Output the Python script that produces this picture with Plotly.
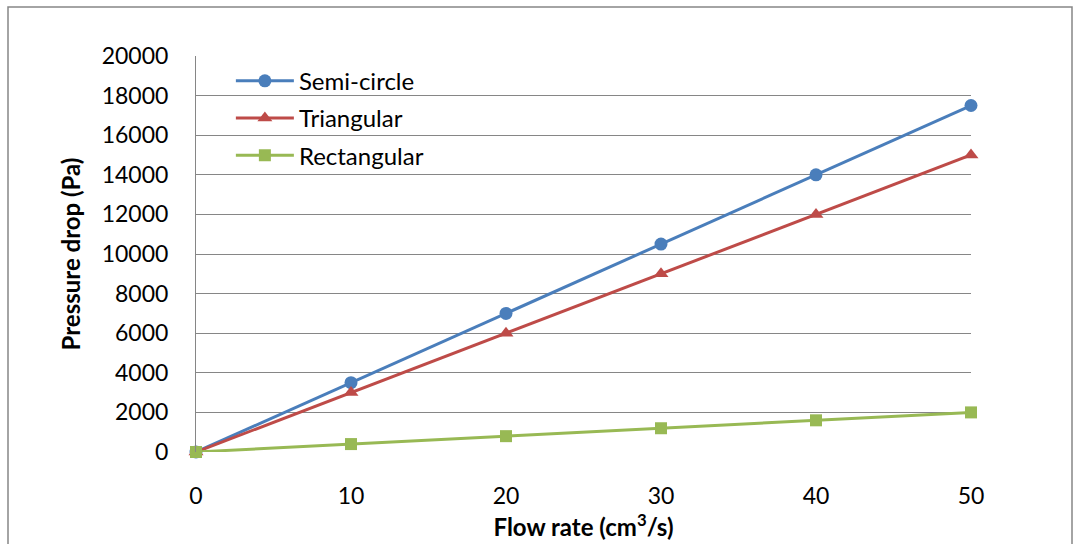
import plotly.graph_objects as go

flow_rate = [0, 10, 20, 30, 40, 50]
semi_circle = [0, 3500, 7000, 10500, 14000, 17500]
triangular = [0, 3000, 6000, 9000, 12000, 15000]
rectangular = [0, 400, 800, 1200, 1600, 2000]

series = [
    ("Semi-circle", semi_circle, "#4A7EBB", "circle", 13),
    ("Triangular", triangular, "#BE4B48", "triangle-up", 13),
    ("Rectangular", rectangular, "#98B954", "square", 12),
]

FONT = "Lato"
fig = go.Figure()
for i, (name, vals, color, sym, size) in enumerate(series):
    fig.add_trace(go.Scatter(
        x=flow_rate, y=vals, name=name, mode="lines+markers",
        line=dict(color=color, width=3),
        marker=dict(symbol=sym, size=size, color=color),
        legendgroup=f"g{i}", cliponaxis=False,
    ))

fig.update_layout(
    width=1073, height=544,
    margin=dict(l=196, r=102, t=56, b=92),
    paper_bgcolor="white", plot_bgcolor="white",
    font=dict(family=FONT, size=23, color="black"),
    showlegend=True,
    legend=dict(x=0.045, y=0.993, xanchor="left", yanchor="top",
                bgcolor="rgba(0,0,0,0)", itemwidth=58, tracegroupgap=3,
                font=dict(family=FONT, size=24)),
    xaxis=dict(range=[0, 50], tickvals=[0, 10, 20, 30, 40, 50],
               tickformat="d", automargin=False,
               showgrid=False, zeroline=False, showline=False,
               ticks="", ticklabelstandoff=28,
               title=dict(text="<b>Flow rate (cm<sup>3</sup>/s)</b>", font=dict(size=24), standoff=8)),
    yaxis=dict(range=[0, 20000], tickvals=list(range(0, 20001, 2000)),
               tickformat="d", automargin=False,
               showgrid=True, gridcolor="#868686", gridwidth=1,
               zeroline=False, showline=True, linecolor="#868686", linewidth=1,
               ticks="", ticklabelstandoff=22,
               title=dict(text="<b>Pressure drop (Pa)</b>", font=dict(size=24), standoff=14)),
    shapes=[dict(type="rect", xref="paper", yref="paper",
                 x0=(8 - 196) / 775, x1=(1072 - 196) / 775,
                 y0=(452 - 560) / 396, y1=(452 - 7) / 396,
                 line=dict(color="#868686", width=1.5), layer="below")],
)

fig.write_html("out.html")
